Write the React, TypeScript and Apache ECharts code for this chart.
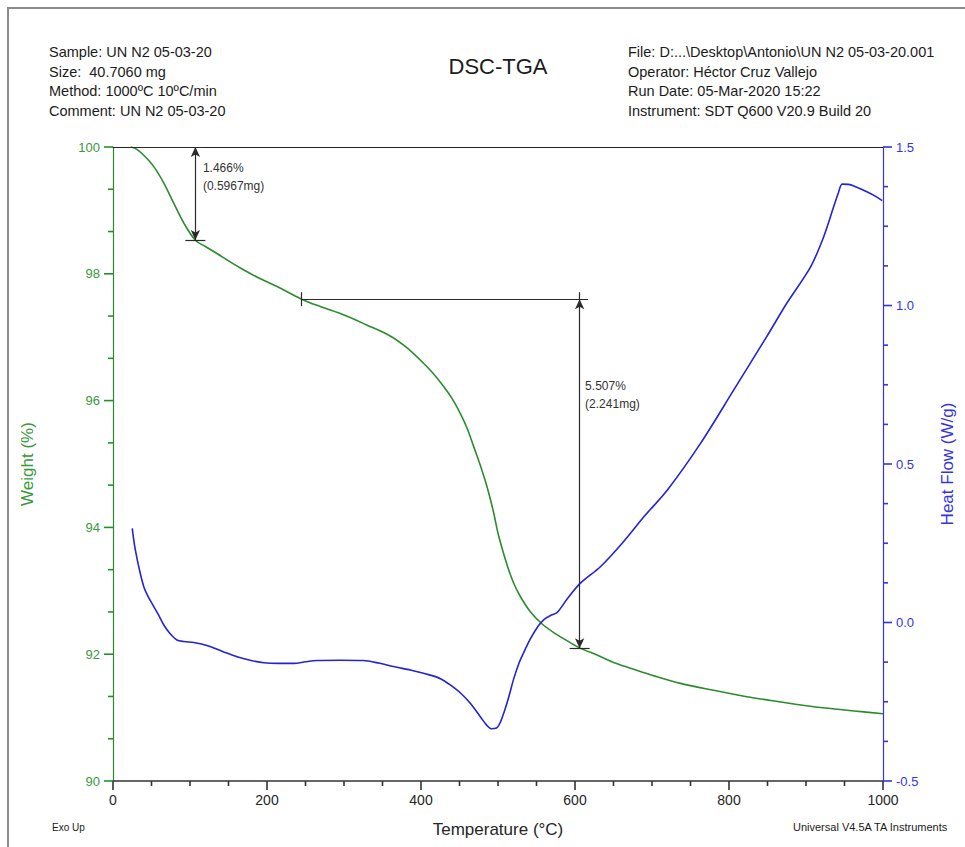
import React, { useEffect, useRef } from "react";
import * as echarts from "echarts";

// TGA trace: temperature (°C) and weight (%)
const tgaTemp = [23, 30, 40, 53, 66, 79, 92, 107, 120, 135, 152, 170, 190, 213, 245, 270, 300, 330, 360, 380, 399, 415, 429, 441, 451, 460, 468, 477, 486, 494, 501, 512, 520, 529, 542, 557, 575, 590, 606, 630, 650, 672, 705, 737, 780, 823, 865, 910, 950, 975, 1000];
const tgaWeight = [100.0, 99.97, 99.87, 99.69, 99.43, 99.11, 98.8, 98.53, 98.43, 98.32, 98.19, 98.06, 97.93, 97.8, 97.6, 97.48, 97.35, 97.19, 97.02, 96.85, 96.64, 96.44, 96.23, 96.02, 95.8, 95.56, 95.29, 94.98, 94.63, 94.25, 93.86, 93.4, 93.13, 92.91, 92.67, 92.48, 92.32, 92.21, 92.1, 91.98, 91.87, 91.78, 91.65, 91.54, 91.43, 91.33, 91.25, 91.17, 91.12, 91.09, 91.06];

// DSC trace: temperature (°C) and heat flow (W/g)
const dscTemp = [25, 27, 29, 34, 40, 46, 53, 60, 66, 74, 83, 92, 105, 115, 126, 143, 161, 178, 196, 215, 235, 250, 265, 295, 325, 345, 364, 390, 412, 426, 438, 452, 464, 477, 485, 491, 498, 503, 508, 514, 520, 527, 533, 542, 552, 560, 568, 577, 590, 607, 633, 663, 690, 720, 763, 806, 849, 875, 906, 923, 936, 942, 947, 955, 962, 979, 990, 999];
const dscHeatFlow = [0.297, 0.26, 0.229, 0.17, 0.113, 0.08, 0.05, 0.02, -0.008, -0.035, -0.055, -0.06, -0.063, -0.068, -0.076, -0.092, -0.108, -0.119, -0.127, -0.129, -0.129, -0.124, -0.12, -0.119, -0.12, -0.128, -0.139, -0.152, -0.166, -0.178, -0.197, -0.224, -0.255, -0.297, -0.323, -0.335, -0.333, -0.315, -0.282, -0.235, -0.181, -0.13, -0.097, -0.052, -0.012, 0.01, 0.022, 0.032, 0.075, 0.124, 0.176, 0.255, 0.335, 0.418, 0.565, 0.733, 0.902, 1.007, 1.122, 1.217, 1.312, 1.355, 1.383, 1.382, 1.377, 1.359, 1.345, 1.331];

// Step-change analyses on the weight curve
const stepStartTemp = [23, 245];
const stepMarkTemp = [107, 606];
const stepTopWeight = [100, 97.6];
const stepLossPct = [1.466, 5.507];
const stepLossMg = ["0.5967", "2.241"];

// Axis ranges: [min, max, major step, minor divisions]
const tempAxis = [0, 1000, 200, 4];
const weightAxis = [90, 100, 2, 3];
const heatAxis = [-0.5, 1.5, 0.5, 4];

// Header block
const headerLeft = ["Sample: UN N2 05-03-20", "Size:  40.7060 mg", "Method: 1000ºC 10ºC/min", "Comment: UN N2 05-03-20"];
const headerRight = ["File: D:...\\Desktop\\Antonio\\UN N2 05-03-20.001", "Operator: Héctor Cruz Vallejo", "Run Date: 05-Mar-2020 15:22", "Instrument: SDT Q600 V20.9 Build 20"];

const FONT = "'Liberation Sans', Arial, sans-serif";
const GREEN = "#2b8c2e";
const GREEN_TXT = "#3a9a3c";
const BLUE = "#2323d8";
const BLUE_AX = "#3434e6";
const INK = "#262626";

const MAJOR_LEN = 9;
const MINOR_LEN = 5;

// tick positions along an axis, each tagged with its length
function tickList(axis: number[]) {
  const [min, max, step, minor] = axis;
  const out: [number, number][] = [];
  const n = Math.round((max - min) / step);
  for (let i = 0; i <= n; i++) {
    out.push([min + i * step, MAJOR_LEN]);
    if (i < n) {
      for (let k = 1; k < minor; k++) out.push([min + i * step + (k * step) / minor, MINOR_LEN]);
    }
  }
  return out;
}

export default function App() {
  const ref = useRef<HTMLDivElement>(null);

  useEffect(() => {
    if (!ref.current) return;
    const chart = echarts.init(ref.current, undefined, { renderer: "svg" });

    const tgaData = tgaTemp.map((t, i) => [t, tgaWeight[i]]);
    const dscData = dscTemp.map((t, i) => [t, dscHeatFlow[i]]);

    const tickH = 0.11; // half-height of vertical step ticks (%)
    const tickW = 13; // half-width of the bottom step tick (°C)
    const overhang = 11; // top line runs a little past the arrow (°C)

    const markLines: any[] = [];
    const markPoints: any[] = [];
    stepStartTemp.forEach((t0, i) => {
      const tm = stepMarkTemp[i];
      const wTop = stepTopWeight[i];
      const wBot = wTop - stepLossPct[i];
      markLines.push(
        [{ coord: [t0, wTop] }, { coord: [tm + overhang, wTop] }],
        [{ coord: [t0, wTop + tickH] }, { coord: [t0, wTop - tickH] }],
        [{ coord: [tm, wTop + tickH] }, { coord: [tm, wTop] }],
        [
          { coord: [tm, wTop], symbol: "arrow" },
          { coord: [tm, wBot], symbol: "arrow" },
        ],
        [{ coord: [tm - tickW, wBot] }, { coord: [tm + tickW, wBot] }]
      );
      const labelW = i === 0 ? wTop - 0.47 : wTop - 1.51;
      markPoints.push({
        coord: [tm, labelW],
        label: {
          formatter: `${stepLossPct[i].toFixed(3)}%\n(${stepLossMg[i]}mg)`,
          distance: i === 0 ? 7 : 5,
        },
      });
    });

    const headerText = (lines: string[], x: number) =>
      lines.map((s, i) => ({
        type: "text",
        x,
        y: 52 + i * 19.7,
        style: { text: s, fill: "#1c1c1c", font: `14.5px ${FONT}`, textVerticalAlign: "middle" },
      }));

    const baseGraphic: any[] = [
      {
        type: "rect",
        shape: { x: 8, y: 8, width: 1000, height: 1000 },
        style: { fill: "none", stroke: "#8c8c8c", lineWidth: 2 },
        silent: true,
      },
      ...headerText(headerLeft, 49),
      ...headerText(headerRight, 628),
      {
        type: "text",
        x: 498,
        y: 66,
        style: {
          text: "DSC-TGA",
          fill: "#1c1c1c",
          font: `22px ${FONT}`,
          textAlign: "center",
          textVerticalAlign: "middle",
        },
      },
      {
        type: "text",
        x: 52,
        y: 827,
        style: { text: "Exo Up", fill: "#1c1c1c", font: `10px ${FONT}`, textVerticalAlign: "middle" },
      },
      {
        type: "text",
        x: 793,
        y: 827,
        style: {
          text: "Universal V4.5A TA Instruments",
          fill: "#1c1c1c",
          font: `11px ${FONT}`,
          textVerticalAlign: "middle",
        },
      },
    ];

    chart.setOption({
      animation: false,
      backgroundColor: "#ffffff",
      textStyle: { fontFamily: FONT },
      grid: { left: 113, right: 82, top: 147, bottom: 66 },
      xAxis: [
        {
          type: "value",
          min: tempAxis[0],
          max: tempAxis[1],
          interval: tempAxis[2],
          position: "bottom",
          axisLine: { show: true, onZero: false, lineStyle: { color: "#333", width: 1.7 } },
          axisTick: { show: false },
          splitLine: { show: false },
          axisLabel: { color: INK, fontSize: 14, margin: 12, fontFamily: FONT, formatter: (v: number) => String(v) },
          name: "Temperature (°C)",
          nameLocation: "middle",
          nameGap: 40,
          nameTextStyle: { color: INK, fontSize: 17, fontFamily: FONT },
        },
        {
          // frame line along the top of the plot
          type: "value",
          min: tempAxis[0],
          max: tempAxis[1],
          position: "top",
          axisLine: { show: true, onZero: false, lineStyle: { color: "#222", width: 1.2 } },
          axisTick: { show: false },
          axisLabel: { show: false },
          splitLine: { show: false },
        },
      ],
      yAxis: [
        {
          type: "value",
          min: weightAxis[0],
          max: weightAxis[1],
          interval: weightAxis[2],
          position: "left",
          axisLine: { show: true, onZero: false, lineStyle: { color: GREEN, width: 1.2 } },
          axisTick: { show: false },
          splitLine: { show: false },
          axisLabel: { color: GREEN_TXT, fontSize: 13, margin: 13, fontFamily: FONT },
          name: "Weight (%)",
          nameLocation: "middle",
          nameGap: 77,
          nameTextStyle: { color: GREEN_TXT, fontSize: 17, fontFamily: FONT },
        },
        {
          type: "value",
          min: heatAxis[0],
          max: heatAxis[1],
          interval: heatAxis[2],
          position: "right",
          axisLine: { show: true, onZero: false, lineStyle: { color: BLUE_AX, width: 1.2 } },
          axisTick: { show: false },
          splitLine: { show: false },
          axisLabel: {
            color: BLUE_AX,
            fontSize: 13,
            margin: 13,
            fontFamily: FONT,
            formatter: (v: number) => v.toFixed(1),
          },
          name: "Heat Flow (W/g)",
          nameLocation: "middle",
          nameGap: 56,
          nameTextStyle: { color: BLUE_AX, fontSize: 17, fontFamily: FONT },
        },
      ],
      series: [
        {
          name: "Weight",
          type: "line",
          xAxisIndex: 0,
          yAxisIndex: 0,
          data: tgaData,
          showSymbol: false,
          smooth: 0.35,
          clip: false,
          lineStyle: { color: GREEN, width: 1.6 },
          silent: true,
          markLine: {
            silent: true,
            symbol: ["none", "none"],
            symbolSize: [7, 10],
            label: { show: false },
            lineStyle: { color: "#2a2a2a", width: 1.2, type: "solid" },
            emphasis: { disabled: true },
            data: markLines,
          },
          markPoint: {
            silent: true,
            symbol: "circle",
            symbolSize: 1,
            itemStyle: { color: "rgba(0,0,0,0)" },
            label: {
              show: true,
              position: "right",
              color: "#333",
              fontSize: 12,
              lineHeight: 18,
              align: "left",
              fontFamily: FONT,
            },
            data: markPoints,
          },
        },
        {
          name: "Heat Flow",
          type: "line",
          xAxisIndex: 0,
          yAxisIndex: 1,
          data: dscData,
          showSymbol: false,
          smooth: 0.3,
          lineStyle: { color: BLUE, width: 1.6 },
          silent: true,
        },
      ],
      graphic: baseGraphic,
    });

    // axis tick marks, placed through the axes' own scales
    const px = (v: number) => chart.convertToPixel({ xAxisIndex: 0 }, v) as number;
    const pyW = (v: number) => chart.convertToPixel({ yAxisIndex: 0 }, v) as number;
    const pyH = (v: number) => chart.convertToPixel({ yAxisIndex: 1 }, v) as number;
    const xLeft = px(tempAxis[0]);
    const xRight = px(tempAxis[1]);
    const yBottom = pyW(weightAxis[0]);

    const tickLine = (x1: number, y1: number, x2: number, y2: number, color: string) => ({
      type: "line",
      silent: true,
      z: 50,
      shape: { x1, y1, x2, y2 },
      style: { stroke: color, lineWidth: 1.6 },
    });

    const ticks: any[] = [
      ...tickList(tempAxis).map(([v, l]) => tickLine(px(v), yBottom, px(v), yBottom + l, "#333")),
      ...tickList(weightAxis).map(([v, l]) => tickLine(xLeft - l, pyW(v), xLeft, pyW(v), GREEN)),
      ...tickList(heatAxis).map(([v, l]) => tickLine(xRight, pyH(v), xRight + l, pyH(v), BLUE_AX)),
    ];

    chart.setOption({ graphic: [...baseGraphic, ...ticks] });

    return () => chart.dispose();
  }, []);

  return (
    <div
      ref={ref}
      style={{ position: "absolute", left: 0, top: 0, width: 965, height: 847, background: "#fff" }}
    />
  );
}
